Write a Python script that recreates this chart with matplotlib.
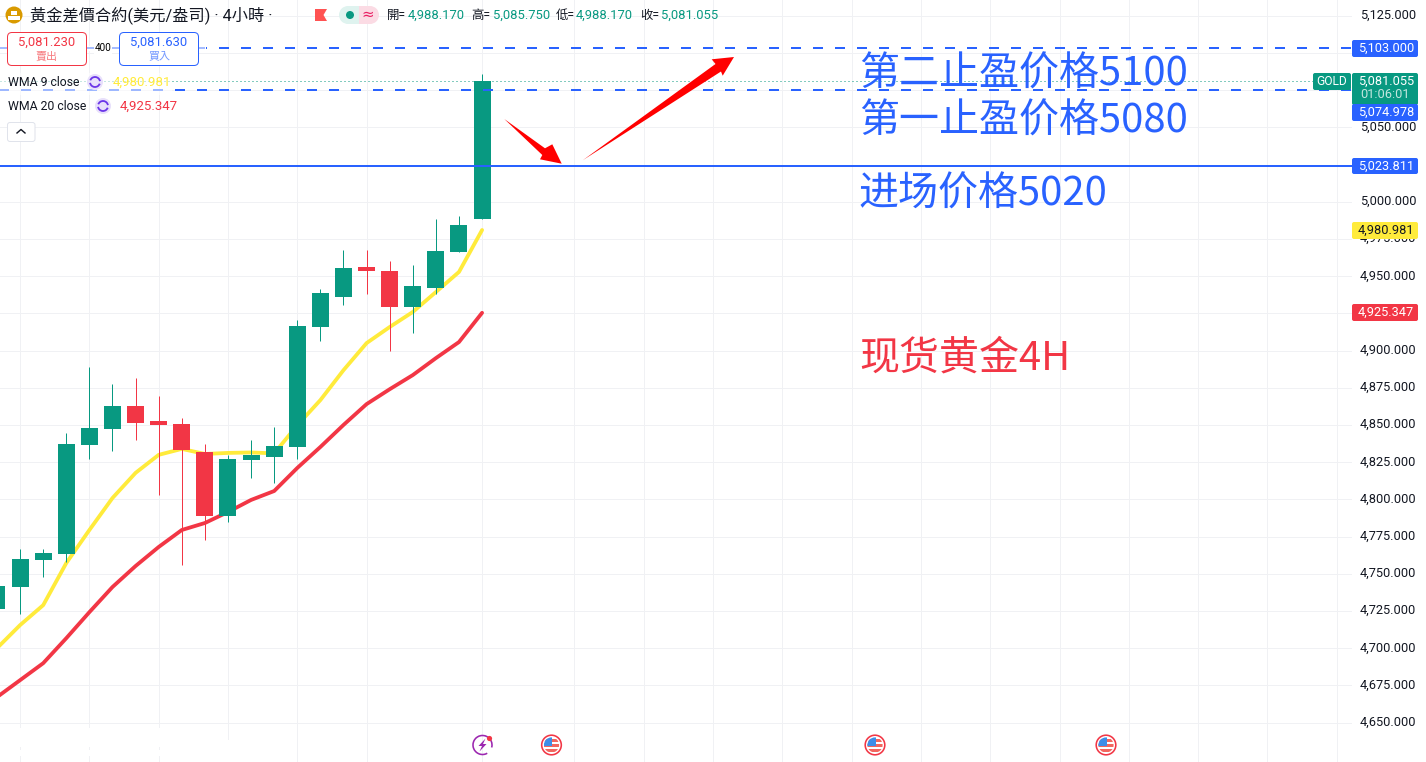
import numpy as np
import matplotlib
matplotlib.use("Agg")
import matplotlib.pyplot as plt
from matplotlib.patches import Circle, FancyBboxPatch, Polygon, Rectangle, Arc, Wedge
from matplotlib.ticker import FixedLocator, FixedFormatter
from matplotlib.transforms import ScaledTranslation

plt.rcParams['font.family'] = ['Roboto', 'Noto Sans CJK TC', 'DejaVu Sans']

# ---- data ----
opens  = [4726.0, 4741.0, 4759.2, 4763.2, 4836.4, 4847.2, 4862.6, 4852.5, 4850.5, 4831.7, 4788.7,
          4826.3, 4828.3, 4835.0, 4915.8, 4936.0, 4956.1, 4953.4, 4929.2, 4942.0, 4966.2, 4988.17]
closes = [4741.5, 4760.0, 4763.9, 4837.1, 4847.9, 4862.6, 4851.2, 4849.8, 4833.0, 4788.7, 4827.0,
          4829.7, 4835.7, 4916.4, 4938.6, 4955.5, 4953.4, 4929.2, 4943.4, 4966.9, 4984.4, 5081.055]
highs  = [4745.0, 4766.6, 4766.6, 4844.5, 4888.9, 4877.4, 4881.5, 4869.4, 4854.6, 4837.0, 4829.7,
          4839.8, 4848.5, 4920.5, 4941.3, 4967.6, 4967.6, 4960.2, 4957.5, 4988.4, 4990.5, 5085.75]
lows   = [4720.0, 4723.0, 4747.8, 4757.9, 4827.0, 4832.4, 4839.8, 4802.9, 4755.9, 4772.6, 4784.7,
          4814.3, 4810.9, 4827.0, 4906.4, 4930.6, 4938.0, 4899.6, 4911.7, 4938.0, 4966.2, 4988.17]
wma9   = [4700.0, 4715.5, 4728.9, 4757.2, 4779.4, 4800.9, 4817.8, 4829.9, 4833.9, 4830.5, 4831.2,
          4831.5, 4830.9, 4849.8, 4866.7, 4886.8, 4905.0, 4915.8, 4925.9, 4939.3, 4952.8, 4980.981]
wma20  = [4667.1, 4678.5, 4689.9, 4706.7, 4724.2, 4741.1, 4755.2, 4768.0, 4779.4, 4784.1, 4791.5,
          4799.6, 4805.6, 4821.1, 4835.2, 4850.0, 4864.0, 4874.0, 4883.5, 4894.9, 4905.7, 4925.347]
grid_bars = [1, 4, 7, 10, 13, 16, 21, 25, 28, 31, 34, 37, 40, 43, 46, 49, 52, 55, 58]
price_ticks = list(range(4650, 5150, 25))
covered_ticks = [5025, 5075, 5100]   # hidden behind the price badges in the reference
tp2_price, tp1_price, entry_price = 5103.0, 5074.978, 5023.811
last_price = 5081.055

UP, DOWN, BLUE, YELLOW = '#089981', '#f23645', '#2962ff', '#ffeb3b'
INK = '#131722'
px = 1 / 100 * 72   # one pixel in points
def fs(p):          # font size from pixels
    return p * px

W, H = 1426, 762
fig = plt.figure(figsize=(W / 100, H / 100), dpi=100, facecolor='white')
ax = fig.add_axes([0, 0, 1352 / W, 1], zorder=1)
ax.set_xlim(0.13, 58.66)
ax.set_ylim(4623.5, 5135.55)
for s in ax.spines.values():
    s.set_visible(False)
ax.xaxis.set_major_locator(FixedLocator(grid_bars))
ax.yaxis.set_major_locator(FixedLocator(price_ticks))
ax.yaxis.set_major_formatter(FixedFormatter(
    ['' if p in covered_ticks else f'{p:,.3f}' for p in price_ticks]))
ax.yaxis.tick_right()
ax.tick_params(axis='x', length=0, labelbottom=False)
ax.tick_params(axis='y', length=0, pad=5.5, labelsize=fs(12.7), labelcolor=INK)
ax.grid(True, color='#f0f1f4', lw=1 * px, zorder=0)
ax.set_axisbelow(True)
for lab in ax.get_yticklabels():
    lab.set_transform(lab.get_transform() + ScaledTranslation(0, 1.7 * px / 72, fig.dpi_scale_trans))

idx = np.arange(len(opens))
o, c, h, l = map(np.array, (opens, closes, highs, lows))
cols = [UP if b >= a else DOWN for a, b in zip(o, c)]
ax.plot(idx, wma20, color=DOWN, lw=3.8 * px, zorder=3, solid_capstyle='round', solid_joinstyle='round')
ax.plot(idx, wma9, color=YELLOW, lw=3.8 * px, zorder=3, solid_capstyle='round', solid_joinstyle='round')
ax.vlines(idx, l, h, colors=cols, lw=1 * px, zorder=4)
ax.bar(idx, np.abs(c - o), bottom=np.minimum(o, c), width=0.736, color=cols, lw=0, zorder=5)

dash = (0.5, (5, 6))
for p in (tp2_price, tp1_price):
    ax.axhline(p, color=BLUE, lw=2 * px, ls=dash, dash_capstyle='butt', zorder=6)
ax.axhline(entry_price, color=BLUE, lw=2 * px, zorder=6)
ax.plot([0.13, 56.96], [last_price] * 2, color=UP, lw=1 * px, ls=(0, (1, 3)), zorder=6)

# ---- overlay in pixel coordinates ----
ui = fig.add_axes([0, 0, 1, 1], zorder=2)
ui.set_xlim(0, W)
ui.set_ylim(H, 0)
ui.axis('off')
ui.patch.set_alpha(0)

def txt(x, y, s, color=INK, size=12, ha='left', va='center', **kw):
    return ui.text(x, y, s, color=color, fontsize=fs(size), ha=ha, va=va, **kw)

def box(x0, y0, x1, y1, fc, ec='none', r=2, lw=1, z=3, alpha=None):
    ui.add_patch(FancyBboxPatch((x0 + r, y0 + r), x1 - x0 - 2 * r, y1 - y0 - 2 * r,
                                boxstyle=f'round,pad={r},rounding_size={r}', fc=fc, ec=ec,
                                lw=lw * px, zorder=z, alpha=alpha))

# bottom band gaps in the grid
ui.add_patch(Rectangle((0, 728), 218, 19, fc='white', ec='none', zorder=1))
ui.add_patch(Rectangle((0, 750), 218, 6, fc='white', ec='none', zorder=1))
ui.add_patch(Rectangle((218, 740), 40, 22, fc='white', ec='none', zorder=1))

# arrows
ui.add_patch(Polygon([(504.3, 119), (545, 148.3), (552.3, 144.3), (561.7, 163.7), (540, 159.3), (542.3, 155)],
                     fc='#ff0000', ec='none', zorder=4))
ui.add_patch(Polygon([(582.7, 160.3), (715.5, 64), (711.7, 59.3), (734, 57), (722.7, 75.7), (721, 71.5)],
                     fc='#ff0000', ec='none', zorder=4))

# big annotations
cjk = ['Noto Sans CJK SC', 'DejaVu Sans']
txt(859, 74.5, '第二止盈价格5100', BLUE, 40, family=cjk, zorder=4)
txt(859, 121.5, '第一止盈价格5080', BLUE, 40, family=cjk, zorder=4)
txt(859, 194.5, '进场价格5020', BLUE, 40, family=cjk, zorder=4)
txt(859, 359, '现货黄金4H', DOWN, 40, family=cjk, zorder=4)

# right axis badges
for y0, y1, col, label, tc in [(40, 57, BLUE, '5,103.000', 'white'),
                               (158, 174, BLUE, '5,023.811', 'white'),
                               (222, 239, YELLOW, '4,980.981', INK),
                               (304, 321, DOWN, '4,925.347', 'white')]:
    box(1352, y0, 1418, y1, col)
    txt(1386, (y0 + y1) / 2, label, tc, 12.7, ha='center')
box(1352, 73, 1418, 105, UP)
txt(1386, 81, '5,081.055', 'white', 12.7, ha='center', zorder=5)
txt(1360, 95, '01:06:01', '#c3e6df', 12.7, zorder=5)
box(1352, 104, 1418, 121, BLUE, z=4)
txt(1386, 112.5, '5,074.978', 'white', 12.7, ha='center', zorder=5)
box(1313, 73, 1351, 90, UP)
txt(1332, 81.5, 'GOLD', 'white', 12, ha='center', zorder=5)

# header
ui.add_patch(Rectangle((0, 45.5), 206, 5, fc='white', ec='none', zorder=1))
ui.plot([0, 204], [48, 48], color='#a5bcff', lw=2 * px, zorder=2)
ui.add_patch(Rectangle((0, 73), 172, 22, fc='white', ec='none', alpha=0.55, zorder=1))

ui.add_patch(Circle((14, 15), 8.5, fc='#d99a00', ec='none', zorder=3))
for xb, yb, wb in [(11, 10.5, 6), (8, 15.5, 6), (14.2, 15.5, 6)]:
    ui.add_patch(Rectangle((xb, yb), wb, 4, fc='white', ec='none', zorder=4))
txt(30, 15, '黃金差價合約(美元/盎司) · 4小時 ·', INK, 16.2)
ui.add_patch(Polygon([(315, 9), (327, 9), (323.5, 15), (327, 21), (315, 21)], fc='#ff5252', ec='none', zorder=3))
ui.add_patch(Wedge((348, 15), 9, 90, 270, fc='#dff3ef', ec='none', zorder=3))
ui.add_patch(Rectangle((348, 6), 11, 18, fc='#dff3ef', ec='none', zorder=3))
ui.add_patch(Rectangle((359, 6), 11, 18, fc='#fbdbe4', ec='none', zorder=3))
ui.add_patch(Wedge((370, 15), 9, -90, 90, fc='#fbdbe4', ec='none', zorder=3))
ui.add_patch(Circle((350, 15), 4, fc=UP, ec='none', zorder=4))
txt(368, 14.5, '≈', '#e91e63', 15, ha='center', family=['DejaVu Sans'], zorder=4)
for xl, xv, lab, val in [(387, 408, '開=', '4,988.170'), (471.5, 492.5, '高=', '5,085.750'),
                         (555.4, 576, '低=', '4,988.170'), (640, 661, '收=', '5,081.055')]:
    txt(xl, 15, lab, INK, 12.4)
    txt(xv, 15, val, UP, 13)

box(7.5, 32.5, 86.5, 65.5, 'white', DOWN, r=4.5)
box(119.5, 32.5, 198.5, 65.5, 'white', BLUE, r=4.5)
txt(47, 42, '5,081.230', DOWN, 13, ha='center', zorder=4)
txt(47, 56.5, '賣出', '#f77c80', 11, ha='center', zorder=4)
txt(159, 42, '5,081.630', BLUE, 13, ha='center', zorder=4)
txt(159, 56.5, '買入', '#7297ff', 11, ha='center', zorder=4)
txt(103, 48, '400', '#000000', 10, ha='center', zorder=4,
    bbox=dict(fc='white', ec='none', pad=0.6))

def refresh(cx, cy):
    ui.add_patch(Circle((cx, cy), 8, fc='#e8e0fb', ec='none', zorder=3))
    ui.add_patch(Arc((cx, cy), 10, 10, theta1=200, theta2=350, color='#6a35e8', lw=1.8 * px, zorder=4))
    ui.add_patch(Arc((cx, cy), 10, 10, theta1=20, theta2=170, color='#6a35e8', lw=1.8 * px, zorder=4))

txt(8, 82, 'WMA 9 close', INK, 12.2, zorder=4)
refresh(95, 82)
txt(113, 82, '4,980.981', YELLOW, 13.2, zorder=4)
txt(8, 106, 'WMA 20 close', INK, 12.2, zorder=4)
refresh(103, 106)
txt(120, 106, '4,925.347', DOWN, 13.2, zorder=4)
box(7.5, 122.5, 35, 141.5, 'white', '#e0e3eb', r=2.5)
ui.plot([17, 21, 25], [133, 129.5, 133], color=INK, lw=1.4 * px, zorder=4)

# event icons
ui.add_patch(Arc((482.5, 745), 19, 19, theta1=60, theta2=15, color='#9c27b0', lw=1.6 * px, zorder=3))
ui.add_patch(Polygon([(485.5, 738.5), (478.5, 746), (482, 746), (479.5, 751.5), (486.5, 744), (483, 744)],
                     fc='#9c27b0', ec='none', zorder=4))
ui.add_patch(Circle((489.5, 738.5), 2.6, fc=DOWN, ec='none', zorder=4))

def flag(cx, cy):
    ui.add_patch(Circle((cx, cy), 9.8, fc='white', ec='#f23645', lw=1.6 * px, zorder=3))
    clip = Circle((cx, cy), 7.6, transform=ui.transData)
    for k, yy in enumerate(np.arange(cy - 7.6, cy + 7.6, 5.07)):
        r = Rectangle((cx - 8, yy + 1.4), 16, 2.7, fc='#f2665f', ec='none', zorder=4)
        ui.add_patch(r)
        r.set_clip_path(clip)
    r = Rectangle((cx - 8, cy - 8), 8.5, 8.5, fc='#3d8de8', ec='none', zorder=5)
    ui.add_patch(r)
    r.set_clip_path(clip)

for cx in (551.5, 875, 1106):
    flag(cx, 745)

fig.savefig('out.png', dpi=100)
